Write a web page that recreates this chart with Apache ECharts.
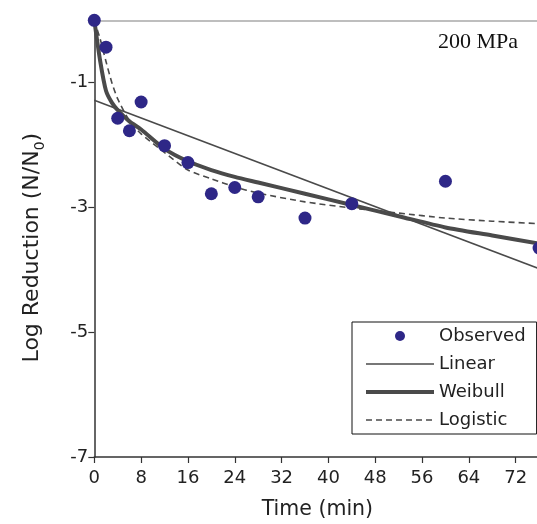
<!DOCTYPE html>
<html>
<head>
<meta charset="utf-8">
<script src="https://cdn.jsdelivr.net/npm/echarts@6/dist/echarts.min.js"></script>
<style>
html,body{margin:0;padding:0;background:#fff;}
#chart{width:537px;height:524px;}
</style>
</head>
<body>
<div id="chart"></div>
<script>
// Observed data
const times = [0, 2, 4, 6, 8, 12, 16, 20, 24, 28, 36, 44, 60, 76];
const observed = [0, -0.43, -1.57, -1.77, -1.31, -2.01, -2.28, -2.78, -2.68, -2.83, -3.17, -2.94, -2.58, -3.65];
// Model curves
const curveTimes = [0, 1, 2, 3, 4, 6, 8, 12, 16, 20, 24, 28, 36, 44, 52, 60, 68, 76];
const weibull = [0, -0.65, -1.13, -1.32, -1.44, -1.62, -1.75, -2.06, -2.26, -2.40, -2.51, -2.60, -2.78, -2.96, -3.14, -3.32, -3.45, -3.58];
const logistic = [0, -0.30, -0.66, -1.00, -1.26, -1.61, -1.82, -2.12, -2.40, -2.54, -2.67, -2.77, -2.91, -3.01, -3.09, -3.17, -3.22, -3.26];
const linearTimes = [0, 76];
const linear = [-1.28, -3.98];
// Axis ticks
const xTicks = [0, 8, 16, 24, 32, 40, 48, 56, 64, 72, 80];
const yTicks = [-7, -5, -3, -1];
const seriesNames = ['Observed', 'Linear', 'Weibull', 'Logistic'];

const pair = (xs, ys) => xs.map((x, i) => [x, ys[i]]);
const FONT = 'DejaVu Sans';
const lineColor = '#4a4a4a';
const hidden = {opacity: 0, color: 'rgba(0,0,0,0)', borderWidth: 0};

const chart = echarts.init(document.getElementById('chart'), null, {renderer: 'canvas'});
chart.setOption({
  animation: false,
  backgroundColor: '#fff',
  title: {
    text: '200 MPa',
    left: 438, top: 31, padding: 0,
    textStyle: {fontFamily: 'Liberation Serif', fontSize: 22, fontWeight: 'normal', color: '#111'}
  },
  grid: {left: 94.3, top: 20.3, width: 468.2, height: 436.7, containLabel: false, outerBoundsMode: 'none'},
  legend: {
    data: [
      {name: 'Observed'},
      {name: 'Linear', itemStyle: hidden, lineStyle: {width: 1.6, color: lineColor}},
      {name: 'Weibull', itemStyle: hidden, lineStyle: {width: 4, color: lineColor}},
      {name: 'Logistic', itemStyle: hidden, lineStyle: {width: 1.6, color: lineColor, type: [6, 4]}}
    ],
    orient: 'vertical',
    left: 352, top: 322,
    padding: [4, 11, 4, 12],
    itemWidth: 68, itemHeight: 10, itemGap: 8,
    borderColor: '#111', borderWidth: 1,
    backgroundColor: '#fff',
    textStyle: {fontFamily: FONT, fontSize: 18, color: '#222', lineHeight: 20},
    selectedMode: false
  },
  xAxis: {
    type: 'value', min: xTicks[0], max: xTicks[xTicks.length - 1], interval: 8,
    name: 'Time (min)', nameLocation: 'middle', nameGap: 42,
    nameTextStyle: {fontFamily: FONT, fontSize: 20.5, color: '#222', padding: [0, 22, 0, 0]},
    axisLine: {onZero: false, lineStyle: {color: '#333', width: 1.5}},
    axisTick: {show: true, length: 6, lineStyle: {color: '#333', width: 1.2}},
    axisLabel: {fontFamily: FONT, fontSize: 18, color: '#222', margin: 12},
    splitLine: {show: false}
  },
  yAxis: {
    type: 'value', min: -7, max: 0, interval: 1,
    name: 'Log Reduction (N/N{sub|0})', nameLocation: 'middle', nameGap: 47, nameRotate: 90,
    nameTextStyle: {
      fontFamily: FONT, fontSize: 22, color: '#222', lineHeight: 30, padding: [0, 18, 0, 0],
      rich: {sub: {fontFamily: FONT, fontSize: 14, color: '#222', verticalAlign: 'bottom', lineHeight: 22}}
    },
    axisLine: {onZero: false, lineStyle: {color: '#333', width: 1.5}},
    axisTick: {show: true, length: 6, customValues: yTicks, lineStyle: {color: '#333', width: 1.2}},
    axisLabel: {fontFamily: FONT, fontSize: 18, color: '#222', margin: 6, customValues: yTicks},
    splitLine: {show: false}
  },
  series: [
    {
      name: 'Linear', type: 'line', data: pair(linearTimes, linear),
      showSymbol: false, symbol: 'none', z: 2,
      lineStyle: {color: lineColor, width: 1.6},
      itemStyle: {color: lineColor},
      markLine: {
        silent: true, symbol: 'none', label: {show: false},
        lineStyle: {color: '#a8a8a8', width: 1.6, type: 'solid'},
        data: [{yAxis: 0}]
      }
    },
    {
      name: 'Weibull', type: 'line', data: pair(curveTimes, weibull),
      showSymbol: false, symbol: 'none', smooth: 0.25, z: 3,
      lineStyle: {color: lineColor, width: 4},
      itemStyle: {color: lineColor}
    },
    {
      name: 'Logistic', type: 'line', data: pair(curveTimes, logistic),
      showSymbol: false, symbol: 'none', smooth: 0.25, z: 2,
      lineStyle: {color: lineColor, width: 1.6, type: [6, 4]},
      itemStyle: {color: lineColor}
    },
    {
      name: 'Observed', type: 'scatter', data: pair(times, observed),
      symbol: 'circle', symbolSize: 13, z: 5,
      itemStyle: {color: '#2e2787', opacity: 1}
    }
  ]
});
</script>
</body>
</html>
